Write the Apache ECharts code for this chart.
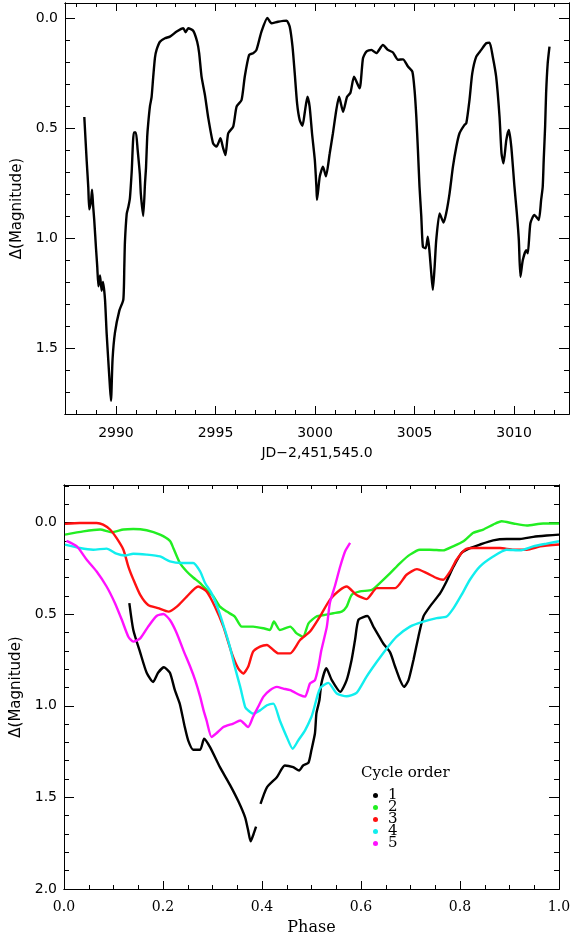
<!DOCTYPE html>
<html lang="en">
<head>
<meta charset="UTF-8">
<title>Light curve and phased cycles</title>
<style>
  html, body { margin: 0; padding: 0; background: #fff; }
  #chart { width: 570px; height: 936px; }
</style>
</head>
<body>
<div id="chart"></div>
<script src="https://cdn.jsdelivr.net/npm/echarts@6/dist/echarts.min.js"></script>
<script>
// top panel: JD - 2,451,545.0 vs delta magnitude
const lightCurve = [
  [2988.41,0.45],[2988.53,0.65],[2988.61,0.77],[2988.66,0.87],[2988.75,0.83],[2988.80,0.78],[2988.85,0.85],
  [2988.91,0.92],[2989.00,1.05],[2989.06,1.13],[2989.12,1.22],[2989.20,1.17],[2989.28,1.24],[2989.35,1.20],
  [2989.45,1.28],[2989.53,1.43],[2989.61,1.55],[2989.70,1.68],[2989.75,1.74],[2989.83,1.55],[2989.95,1.43],
  [2990.17,1.33],[2990.37,1.28],[2990.42,1.13],[2990.45,1.02],[2990.54,0.89],[2990.62,0.86],[2990.70,0.82],
  [2990.79,0.70],[2990.90,0.52],[2991.00,0.52],[2991.09,0.60],[2991.20,0.71],[2991.25,0.80],[2991.37,0.90],
  [2991.46,0.75],[2991.51,0.68],[2991.57,0.54],[2991.62,0.48],[2991.71,0.40],[2991.79,0.36],[2991.87,0.27],
  [2991.96,0.18],[2992.04,0.145],[2992.21,0.108],[2992.46,0.092],[2992.71,0.085],[2993.05,0.062],[2993.38,0.047],
  [2993.50,0.065],[2993.63,0.047],[2993.88,0.058],[2994.08,0.108],[2994.18,0.16],[2994.30,0.267],[2994.47,0.35],
  [2994.63,0.45],[2994.88,0.57],[2995.05,0.585],[2995.25,0.547],[2995.38,0.59],[2995.50,0.623],[2995.64,0.524],
  [2995.89,0.494],[2996.06,0.403],[2996.31,0.373],[2996.47,0.267],[2996.69,0.168],[2996.89,0.16],[2997.06,0.145],
  [2997.31,0.062],[2997.61,0.0],[2997.81,0.024],[2998.14,0.017],[2998.57,0.012],[2998.73,0.04],[2998.87,0.13],
  [2998.98,0.25],[2999.10,0.388],[2999.23,0.464],[2999.37,0.49],[2999.48,0.433],[2999.62,0.358],[2999.73,0.403],
  [2999.85,0.524],[2999.99,0.645],[3000.07,0.767],[3000.10,0.827],[3000.24,0.72],[3000.40,0.676],[3000.55,0.72],
  [3000.74,0.615],[3000.90,0.524],[3001.07,0.418],[3001.21,0.358],[3001.41,0.426],[3001.61,0.358],[3001.78,0.34],
  [3001.96,0.267],[3002.24,0.32],[3002.41,0.183],[3002.58,0.153],[3002.83,0.145],[3003.08,0.16],[3003.41,0.123],
  [3003.66,0.145],[3003.92,0.157],[3004.17,0.19],[3004.42,0.188],[3004.67,0.221],[3004.89,0.244],[3005.00,0.327],
  [3005.09,0.449],[3005.17,0.60],[3005.25,0.767],[3005.34,0.903],[3005.42,1.04],[3005.56,1.047],[3005.67,0.994],
  [3005.76,1.07],[3005.84,1.16],[3005.92,1.236],[3006.01,1.13],[3006.09,1.01],[3006.26,0.888],[3006.46,0.93],
  [3006.59,0.888],[3006.76,0.797],[3006.93,0.676],[3007.10,0.585],[3007.26,0.524],[3007.51,0.486],[3007.60,0.479],
  [3007.76,0.373],[3007.90,0.252],[3008.10,0.176],[3008.35,0.145],[3008.60,0.115],[3008.77,0.112],[3008.93,0.176],
  [3009.10,0.267],[3009.27,0.449],[3009.37,0.615],[3009.47,0.661],[3009.61,0.555],[3009.74,0.509],[3009.86,0.585],
  [3010.02,0.767],[3010.14,0.888],[3010.24,1.01],[3010.32,1.176],[3010.44,1.10],[3010.61,1.055],[3010.69,1.07],
  [3010.82,0.933],[3011.02,0.895],[3011.24,0.918],[3011.36,0.827],[3011.44,0.767],[3011.49,0.645],[3011.56,0.494],
  [3011.61,0.342],[3011.69,0.206],[3011.78,0.13]
];

// bottom panel: phase vs delta magnitude, one list per cycle ('-' = gap)
const cycle1 = [
  [0.132,0.44],[0.14,0.586],[0.154,0.71],[0.167,0.82],[0.18,0.87],[0.19,0.82],[0.202,0.79],[0.214,0.82],
  [0.224,0.915],[0.234,0.99],[0.244,1.116],[0.251,1.19],[0.261,1.24],[0.275,1.24],[0.283,1.18],[0.295,1.226],
  [0.315,1.335],[0.335,1.43],[0.352,1.52],[0.366,1.61],[0.372,1.68],[0.377,1.74],[0.383,1.70],[0.388,1.66],
  [0.392,'-'],
  [0.397,1.536],[0.41,1.445],[0.43,1.39],[0.446,1.326],[0.463,1.335],[0.475,1.353],[0.483,1.326],[0.494,1.31],
  [0.5,1.24],[0.507,1.15],[0.51,1.04],[0.516,0.97],[0.52,0.878],[0.53,0.795],[0.541,0.86],[0.558,0.924],
  [0.571,0.86],[0.581,0.75],[0.588,0.64],[0.595,0.53],[0.613,0.51],[0.625,0.568],[0.635,0.614],[0.645,0.66],
  [0.659,0.71],[0.669,0.787],[0.679,0.86],[0.687,0.897],[0.696,0.86],[0.706,0.75],[0.716,0.623],[0.726,0.513],
  [0.739,0.459],[0.76,0.385],[0.773,0.32],[0.787,0.24],[0.803,0.166],[0.82,0.14],[0.84,0.12],[0.867,0.097],
  [0.894,0.09],[0.921,0.09],[0.948,0.078],[0.975,0.071],[1.0,0.066]
];
const cycle2 = [
  [0.002,0.066],[0.039,0.048],[0.073,0.038],[0.096,0.053],[0.12,0.038],[0.14,0.035],[0.167,0.042],[0.194,0.066],
  [0.214,0.10],[0.221,0.14],[0.234,0.22],[0.248,0.267],[0.261,0.30],[0.275,0.33],[0.288,0.367],[0.302,0.404],
  [0.315,0.459],[0.329,0.486],[0.345,0.513],[0.359,0.568],[0.382,0.568],[0.403,0.577],[0.416,0.586],[0.424,0.54],
  [0.436,0.586],[0.457,0.568],[0.47,0.605],[0.483,0.623],[0.494,0.55],[0.51,0.513],[0.527,0.504],[0.544,0.495],
  [0.561,0.486],[0.571,0.459],[0.581,0.395],[0.598,0.376],[0.622,0.367],[0.638,0.33],[0.659,0.276],[0.679,0.221],
  [0.699,0.175],[0.719,0.148],[0.739,0.148],[0.766,0.152],[0.786,0.13],[0.807,0.102],[0.827,0.056],[0.847,0.038],
  [0.867,0.011],[0.884,-0.007],[0.908,0.005],[0.935,0.016],[0.968,0.005],[1.0,0.005]
];
const cycle3 = [
  [0.002,0.007],[0.032,0.002],[0.066,0.002],[0.079,0.011],[0.093,0.038],[0.106,0.084],[0.12,0.148],[0.13,0.24],
  [0.14,0.31],[0.154,0.395],[0.17,0.45],[0.19,0.467],[0.211,0.486],[0.228,0.459],[0.248,0.404],[0.271,0.349],
  [0.288,0.376],[0.305,0.459],[0.322,0.568],[0.339,0.714],[0.352,0.796],[0.362,0.824],[0.372,0.787],[0.382,0.705],
  [0.396,0.677],[0.41,0.668],[0.423,0.696],[0.433,0.714],[0.446,0.714],[0.457,0.714],[0.477,0.641],[0.497,0.595],
  [0.517,0.513],[0.537,0.422],[0.558,0.367],[0.571,0.349],[0.591,0.395],[0.611,0.418],[0.632,0.358],[0.648,0.358],
  [0.669,0.358],[0.692,0.285],[0.713,0.254],[0.733,0.276],[0.753,0.303],[0.766,0.312],[0.78,0.267],[0.793,0.203],
  [0.81,0.148],[0.827,0.139],[0.854,0.139],[0.881,0.139],[0.908,0.148],[0.935,0.148],[0.962,0.13],[1.0,0.12]
];
const cycle4 = [
  [0.002,0.12],[0.032,0.139],[0.059,0.148],[0.086,0.142],[0.106,0.17],[0.123,0.18],[0.14,0.17],[0.167,0.175],
  [0.194,0.185],[0.214,0.212],[0.238,0.221],[0.261,0.221],[0.275,0.267],[0.285,0.33],[0.298,0.385],[0.312,0.477],
  [0.325,0.586],[0.335,0.677],[0.345,0.787],[0.356,0.897],[0.366,1.007],[0.372,1.025],[0.382,1.043],[0.396,1.025],
  [0.41,0.997],[0.423,0.988],[0.436,1.08],[0.45,1.17],[0.462,1.235],[0.473,1.19],[0.487,1.134],[0.5,1.06],
  [0.504,1.025],[0.517,0.906],[0.534,0.875],[0.551,0.933],[0.571,0.948],[0.591,0.93],[0.611,0.842],[0.632,0.76],
  [0.652,0.687],[0.672,0.623],[0.699,0.568],[0.726,0.541],[0.753,0.522],[0.773,0.513],[0.787,0.467],[0.803,0.395],
  [0.82,0.312],[0.84,0.24],[0.867,0.185],[0.894,0.148],[0.921,0.152],[0.948,0.13],[0.975,0.115],[1.0,0.102]
];
const cycle5 = [
  [0.005,0.10],[0.026,0.13],[0.046,0.203],[0.066,0.267],[0.086,0.349],[0.103,0.44],[0.117,0.532],[0.13,0.623],
  [0.14,0.65],[0.154,0.632],[0.17,0.568],[0.187,0.51],[0.201,0.499],[0.214,0.532],[0.228,0.605],[0.241,0.696],
  [0.255,0.787],[0.265,0.86],[0.275,0.95],[0.282,1.025],[0.288,1.08],[0.298,1.17],[0.308,1.15],[0.322,1.116],
  [0.342,1.097],[0.356,1.08],[0.372,1.116],[0.382,1.06],[0.392,1.007],[0.403,0.95],[0.416,0.915],[0.43,0.897],
  [0.443,0.906],[0.457,0.915],[0.477,0.942],[0.487,0.95],[0.497,0.878],[0.507,0.86],[0.514,0.787],[0.52,0.696],
  [0.531,0.568],[0.537,0.44],[0.547,0.349],[0.558,0.24],[0.568,0.157],[0.578,0.111]
];

const cycleNames = ['1', '2', '3', '4', '5'];
const cycleColors = ['#000000', '#22ee22', '#ff1111', '#11eeee', '#ff11ff'];
const cycleData = [cycle1, cycle2, cycle3, cycle4, cycle5];

const sans = 'DejaVu Sans';
const serif = 'DejaVu Serif';

// one axis of the box: ticks drawn inward, no labels unless added later
function boxAxis(gridIndex, position, min, max, tickLen, extra) {
  return Object.assign({
    type: 'value', gridIndex: gridIndex, position: position, min: min, max: max,
    axisLine: { show: true, onZero: false, lineStyle: { color: '#000', width: 1 } },
    axisTick: { show: true, inside: true, length: tickLen, lineStyle: { color: '#000', width: 1 } },
    axisLabel: { show: false },
    splitLine: { show: false }
  }, extra);
}

// label only values that sit on the major step
function onStep(step, fmt) {
  return function (v) {
    const k = v / step;
    return Math.abs(k - Math.round(k)) < 1e-6 ? fmt(v) : '';
  };
}

const jdMin = 2987.44, jdMax = 3012.76;
const topMagMin = -0.068, topMagMax = 1.8;
const botMagMin = -0.205, botMagMax = 2.0;

const myChart = echarts.init(document.getElementById('chart'), null, { renderer: 'canvas' });

const option = {
  animation: false,
  backgroundColor: '#fff',
  title: {
    text: 'Cycle order', left: 361, top: 766, padding: 0,
    textStyle: { fontFamily: serif, fontSize: 15, fontWeight: 'normal', color: '#000' }
  },
  legend: {
    data: cycleNames, orient: 'vertical', left: 373, top: 788, padding: 0,
    itemGap: -3, itemWidth: 15, itemHeight: 5, icon: 'circle', selectedMode: false,
    textStyle: { fontFamily: serif, fontSize: 15, color: '#000' }
  },
  grid: [
    { left: 65, right: 1, top: 3, bottom: 522, containLabel: false, outerBoundsMode: 'none' },
    { left: 64, right: 11, top: 485, bottom: 47, containLabel: false, outerBoundsMode: 'none' }
  ],
  xAxis: [
    boxAxis(0, 'bottom', jdMin, jdMax, 8, {
      splitNumber: 5,
      axisLabel: { show: true, margin: 12, fontFamily: sans, fontSize: 14, color: '#000',
        formatter: onStep(5, v => String(Math.round(v))) },
      name: 'JD\u22122,451,545.0', nameLocation: 'middle', nameGap: 32,
      nameTextStyle: { fontFamily: sans, fontSize: 14, color: '#000' }
    }),
    boxAxis(0, 'bottom', jdMin, jdMax, 4, { splitNumber: 25 }),
    boxAxis(0, 'top', jdMin, jdMax, 8, { splitNumber: 5 }),
    boxAxis(0, 'top', jdMin, jdMax, 4, { splitNumber: 25 }),
    boxAxis(1, 'bottom', 0, 1, 8, {
      interval: 0.2,
      axisLabel: { show: true, margin: 11, fontFamily: serif, fontSize: 14, color: '#000',
        formatter: v => v.toFixed(1) },
      name: 'Phase', nameLocation: 'middle', nameGap: 31,
      nameTextStyle: { fontFamily: serif, fontSize: 16, color: '#000' }
    }),
    boxAxis(1, 'bottom', 0, 1, 4, { interval: 0.05 }),
    boxAxis(1, 'top', 0, 1, 8, { interval: 0.2 }),
    boxAxis(1, 'top', 0, 1, 4, { interval: 0.05 })
  ],
  yAxis: [
    boxAxis(0, 'left', topMagMin, topMagMax, 10, {
      inverse: true, splitNumber: 4,
      axisLabel: { show: true, margin: 7, fontFamily: sans, fontSize: 14, color: '#000',
        formatter: onStep(0.5, v => v.toFixed(1)) },
      name: '\u0394(Magnitude)', nameLocation: 'middle', nameGap: 34,
      nameTextStyle: { fontFamily: sans, fontSize: 15, color: '#000' }
    }),
    boxAxis(0, 'left', topMagMin, topMagMax, 5, { inverse: true, splitNumber: 19 }),
    boxAxis(0, 'right', topMagMin, topMagMax, 10, { inverse: true, splitNumber: 4 }),
    boxAxis(0, 'right', topMagMin, topMagMax, 5, { inverse: true, splitNumber: 19 }),
    boxAxis(1, 'left', botMagMin, botMagMax, 10, {
      inverse: true, splitNumber: 4,
      axisLabel: { show: true, margin: 7, fontFamily: sans, fontSize: 14, color: '#000',
        formatter: onStep(0.5, v => v.toFixed(1)) },
      name: '\u0394(Magnitude)', nameLocation: 'middle', nameGap: 34,
      nameTextStyle: { fontFamily: sans, fontSize: 15, color: '#000' }
    }),
    boxAxis(1, 'left', botMagMin, botMagMax, 5, { inverse: true, splitNumber: 22 }),
    boxAxis(1, 'right', botMagMin, botMagMax, 10, { inverse: true, splitNumber: 4 }),
    boxAxis(1, 'right', botMagMin, botMagMax, 5, { inverse: true, splitNumber: 22 })
  ],
  series: [
    {
      name: 'light curve', type: 'line', xAxisIndex: 0, yAxisIndex: 0,
      data: lightCurve, showSymbol: false, smooth: 0.2, silent: true,
      lineStyle: { color: '#000', width: 2.4 }
    }
  ].concat(cycleNames.map((n, i) => ({
    name: n, type: 'line', xAxisIndex: 4, yAxisIndex: 4,
    data: cycleData[i], showSymbol: false, smooth: 0.2, silent: true,
    itemStyle: { color: cycleColors[i] },
    lineStyle: { color: cycleColors[i], width: 2.4 }
  })))
};

myChart.setOption(option);
</script>
</body>
</html>
